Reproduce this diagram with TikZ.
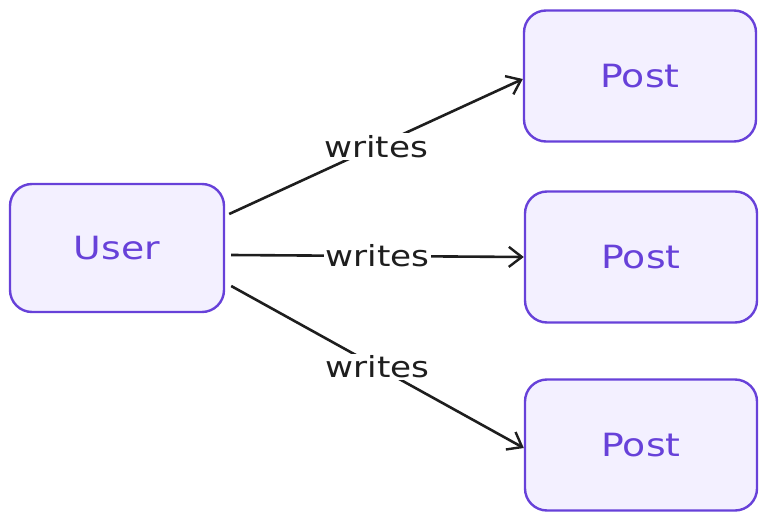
\documentclass[tikz,border=0pt]{standalone}
\usepackage{fontspec}
\setmainfont{DejaVu Sans}[FakeStretch=1.18]
\usetikzlibrary{arrows.meta}
\definecolor{boxline}{HTML}{6741D9}
\definecolor{boxfill}{HTML}{F3F0FF}
\definecolor{ink}{HTML}{1E1E1E}
\begin{document}
\begin{tikzpicture}[x=1pt,y=-1pt,
  entity/.style={draw=boxline, fill=boxfill, line width=2.4pt, rounded corners=22pt,
    minimum width=232pt, minimum height=131pt, inner sep=0pt,
    text=boxline, font=\fontsize{32}{36}\selectfont},
  userbox/.style={entity, minimum width=214pt, minimum height=128pt},
  rel/.style={draw=ink, line width=2.6pt, -{Straight Barb[length=13pt,width=20pt,line width=2.4pt]}},
  lbl/.style={fill=white, text=ink, inner sep=2pt, font=\fontsize{29}{33}\selectfont}]
\useasboundingbox (0,0) rectangle (767,521);
\node[userbox] (user) at (117,248) {User};
\node[entity] (p1) at (640,76) {Post};
\node[entity] (p2) at (641,257) {Post};
\node[entity] (p3) at (641,445) {Post};
\draw[rel] ([shift={(4,-34)}]user.east) -- ([yshift=-3]p1.west) node[lbl, midway] {writes};
\draw[rel] ([shift={(6,7)}]user.east) -- (p2.west) node[lbl, midway] {writes};
\draw[rel] ([shift={(6,38)}]user.east) -- ([yshift=-3]p3.west) node[lbl, midway] {writes};
\end{tikzpicture}
\end{document}
